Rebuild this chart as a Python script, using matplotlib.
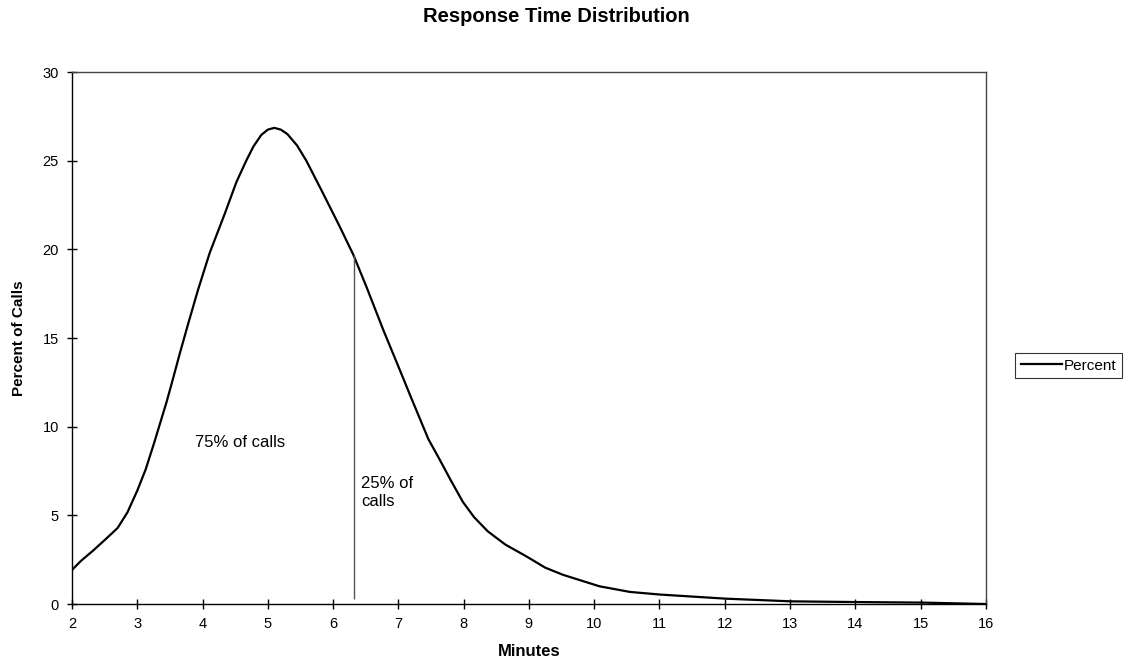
import matplotlib.pyplot as plt

plt.rcParams['font.family'] = ['Liberation Sans', 'DejaVu Sans']

minutes = [2.0, 2.14, 2.32, 2.52, 2.70, 2.85, 3.0, 3.13, 3.26, 3.45, 3.54, 3.65,
           3.78, 3.93, 4.11, 4.34, 4.52, 4.67, 4.78, 4.9, 5.0, 5.1, 5.2, 5.3,
           5.45, 5.59, 5.82, 6.10, 6.31, 6.51, 6.77, 7.0, 7.20, 7.46, 7.64, 7.8,
           7.99, 8.16, 8.37, 8.64, 8.96, 9.25, 9.52, 10.08, 10.55, 11.02, 12.02,
           13.02, 14.02, 15.02, 16.0]
percent = [1.92, 2.44, 3.0, 3.67, 4.29, 5.17, 6.39, 7.6, 9.1, 11.4, 12.6, 14.1,
           15.8, 17.7, 19.8, 22.0, 23.8, 25.0, 25.8, 26.45, 26.75, 26.85, 26.75, 26.5,
           25.85, 25.0, 23.35, 21.3, 19.7, 17.9, 15.45, 13.4, 11.6, 9.3, 8.1, 7.0,
           5.75, 4.9, 4.1, 3.35, 2.69, 2.05, 1.65, 1.0, 0.68, 0.53, 0.30,
           0.15, 0.11, 0.08, 0.0]

cutoff_x = 6.32
cutoff_bottom, cutoff_top = 0.3, 19.7

fig = plt.figure(figsize=(11.37, 6.68), dpi=100)
ax = fig.add_axes([0.0633, 0.0958, 0.8037, 0.7964])

ax.plot(minutes, percent, color='black', lw=1.6, label='Percent')
ax.vlines(cutoff_x, cutoff_bottom, cutoff_top, color='#555555', lw=1)

ax.text(3.88, 9.1, '75% of calls', fontsize=12, va='center')
ax.text(6.43, 6.3, '25% of\ncalls', fontsize=12, va='center', linespacing=1.25)

ax.set_xlim(2, 16)
ax.set_ylim(0, 30)
ax.set_xticks(range(2, 17))
ax.set_yticks(range(0, 31, 5))
ax.tick_params(direction='inout', length=7, width=1, labelsize=10.5, pad=6)
for s in ax.spines.values():
    s.set_linewidth(1)
ax.spines['top'].set_color('#444444')
ax.spines['right'].set_color('#444444')

ax.set_xlabel('Minutes', fontsize=12, fontweight='bold', labelpad=9)
ax.set_ylabel('Percent of Calls', fontsize=11, fontweight='bold', labelpad=12)
fig.text(0.489, 0.975, 'Response Time Distribution', fontsize=14.5,
         fontweight='bold', ha='center', va='center')

leg = ax.legend(loc='center left', bbox_to_anchor=(1.024, 0.448), fontsize=11,
                frameon=True, fancybox=False, edgecolor='black',
                handlelength=2.7, borderpad=0.35, handletextpad=0.15)
leg.get_frame().set_linewidth(0.8)

fig.savefig('out.png', dpi=100)
